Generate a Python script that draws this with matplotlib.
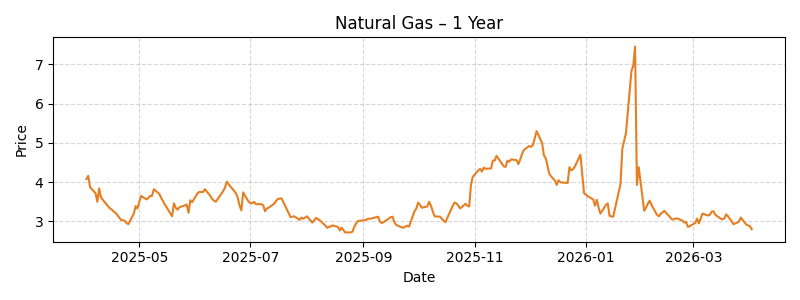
import numpy as np
import pandas as pd
import matplotlib
matplotlib.use("Agg")
import matplotlib.pyplot as plt

# daily closes (business days)
apr_2025 = [4.08, 4.16, 3.87, 3.72, 3.50, 3.84, 3.61, 3.55, 3.38, 3.33, 3.30,
            3.25, 3.22, 3.04, 3.03, 3.02, 2.96, 2.93, 3.20, 3.39, 3.33]
may_2025 = [3.50, 3.65, 3.56, 3.60, 3.65, 3.65, 3.82, 3.70, 3.60, 3.52, 3.43,
            3.36, 3.13, 3.46, 3.35, 3.30, 3.36, 3.41, 3.43, 3.22, 3.54, 3.49]
jun_2025 = [3.72, 3.75, 3.75, 3.75, 3.82, 3.65, 3.57, 3.53, 3.50, 3.57, 3.77,
            3.86, 4.01, 3.95, 3.89, 3.72, 3.60, 3.41, 3.28, 3.74, 3.50]
jul_2025 = [3.47, 3.46, 3.50, 3.44, 3.44, 3.41, 3.26, 3.33, 3.35, 3.45, 3.52,
            3.57, 3.58, 3.59, 3.30, 3.20, 3.11, 3.12, 3.13, 3.04, 3.10, 3.07, 3.10]
aug_2025 = [3.13, 2.97, 3.03, 3.09, 3.06, 3.03, 2.90, 2.84, 2.86, 2.87, 2.90,
            2.86, 2.77, 2.84, 2.78, 2.72, 2.72, 2.74, 2.87, 2.95, 3.01]
sep_2025 = [3.03, 3.03, 3.06, 3.07, 3.07, 3.11, 3.12, 3.00, 2.96, 2.98, 3.08,
            3.11, 3.12, 2.97, 2.91, 2.85, 2.84, 2.87, 2.89, 2.87, 3.26, 3.33]
oct_2025 = [3.48, 3.42, 3.35, 3.38, 3.50, 3.40, 3.26, 3.13, 3.12, 3.07, 3.02,
            2.98, 3.09, 3.40, 3.48, 3.46, 3.40, 3.33, 3.45, 3.40, 3.38, 3.95, 4.14]
nov_2025 = [4.30, 4.34, 4.27, 4.37, 4.34, 4.35, 4.55, 4.55, 4.67, 4.60, 4.40,
            4.39, 4.55, 4.52, 4.58, 4.56, 4.46, 4.58, 4.72, 4.82]
dec_2025 = [4.92, 4.90, 4.95, 5.12, 5.30, 4.99, 4.68, 4.61, 4.40, 4.20, 4.04,
            3.93, 4.05, 4.00, 3.99, 3.98, 4.38, 4.30, 4.33, 4.40, 4.70, 4.20, 3.72]
jan_2026 = [3.68, 3.64, 3.56, 3.40, 3.55, 3.35, 3.20, 3.42, 3.46, 3.14, 3.13,
            3.12, 3.75, 3.95, 4.85, 5.05, 5.25, 6.83, 6.96, 7.45, 3.93, 4.38]
feb_2026 = [3.27, 3.35, 3.45, 3.53, 3.42, 3.17, 3.13, 3.19, 3.23, 3.27, 3.12,
            3.06, 3.05, 3.07, 3.08, 3.02, 2.97, 2.99, 2.86, 2.88]
mar_2026 = [2.96, 3.07, 2.95, 3.08, 3.20, 3.15, 3.17, 3.25, 3.26, 3.17, 3.07,
            3.05, 3.08, 3.18, 3.13, 2.93, 2.95, 2.97, 3.00, 3.10, 2.92, 2.90]
apr_2026 = [2.88, 2.80]

prices = (apr_2025 + may_2025 + jun_2025 + jul_2025 + aug_2025 + sep_2025 +
          oct_2025 + nov_2025 + dec_2025 + jan_2026 + feb_2026 + mar_2026 + apr_2026)
dates = pd.bdate_range("2025-04-02", periods=len(prices))

fig, ax = plt.subplots(figsize=(8, 3), dpi=100)
ax.plot(dates, prices, color="#e67e22", linewidth=1.5)
ax.set_title("Natural Gas – 1 Year")
ax.set_xlabel("Date")
ax.set_ylabel("Price")
ax.grid(True, linestyle="--", alpha=0.5)
fig.tight_layout()
fig.savefig("out.png")
